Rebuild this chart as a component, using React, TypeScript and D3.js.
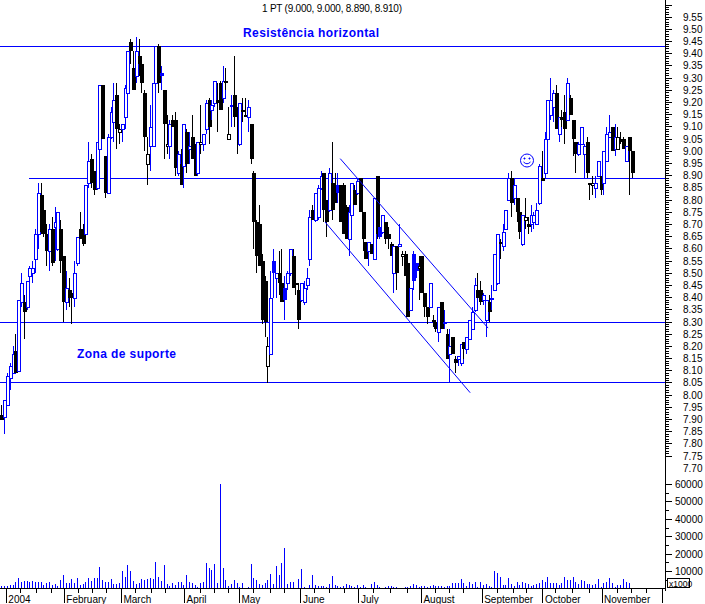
import React from "react";
import * as d3 from "d3";

const BLUE = "#0000ff";
const FONT = "'Liberation Sans', Arial, sans-serif";

// [open, high, low, close, blue?]  blue = closed above previous close; filled = close below open
const januaryCandles = [
[7.92,7.96,7.90,7.90,0],[7.91,7.98,7.84,7.98,1],[7.96,8.09,7.96,8.08,1],[8.07,8.13,8.02,8.12,1],[8.09,8.20,8.09,8.17,1],
[8.18,8.25,8.09,8.09,0],[8.10,8.39,8.10,8.39,1],[8.38,8.50,8.36,8.46,1],[8.38,8.41,8.23,8.34,0],[8.36,8.47,8.35,8.47,1],
[8.49,8.53,8.38,8.52,1],[8.50,8.55,8.46,8.52,1],[8.56,8.68,8.50,8.66,1],[8.66,8.87,8.60,8.83,1],[8.82,8.87,8.66,8.67,0],
[8.76,8.76,8.65,8.66,0],[8.66,8.70,8.53,8.59,0],[8.59,8.70,8.51,8.68,1],[8.68,8.73,8.53,8.54,0],[8.69,8.77,8.55,8.71,1],
[8.60,8.75,8.59,8.75,1],[8.68,8.72,8.50,8.55,0],
];
const februaryCandles = [
[8.57,8.57,8.30,8.38,0],[8.38,8.51,8.35,8.44,1],[8.43,8.48,8.36,8.40,0],[8.42,8.42,8.29,8.40,0],[8.40,8.55,8.36,8.50,1],
[8.54,8.65,8.53,8.65,1],[8.68,8.75,8.64,8.64,0],[8.68,8.70,8.61,8.62,0],[8.66,8.86,8.66,8.86,1],[8.87,9.04,8.85,8.96,1],
[8.97,8.99,8.85,8.87,0],[8.92,8.92,8.82,8.84,0],[8.85,9.04,8.84,9.04,1],[9.01,9.27,9.01,9.27,1],[9.27,9.27,9.05,9.05,0],
[8.98,8.98,8.81,8.83,0],[8.83,9.07,8.83,9.06,1],[9.06,9.18,9.05,9.16,1],[9.12,9.28,9.04,9.21,1],[9.23,9.28,9.01,9.09,0],
];
const marchCandles = [
[9.08,9.11,9.03,9.09,0],[9.09,9.11,9.04,9.11,1],[9.14,9.27,9.09,9.26,1],[9.24,9.41,9.15,9.41,1],
[9.45,9.46,9.36,9.41,0],[9.34,9.41,9.25,9.25,0],[9.31,9.47,9.28,9.41,1],[9.39,9.46,9.31,9.36,0],[9.36,9.37,9.24,9.28,0],
[9.24,9.25,9.00,9.06,0],[8.95,9.06,8.86,8.99,0],[9.02,9.19,8.92,9.10,1],[9.02,9.28,9.02,9.28,1],[9.28,9.43,9.26,9.43,1],
[9.43,9.44,9.24,9.28,0],[9.32,9.35,9.25,9.31,1],[9.25,9.25,8.97,9.11,0],[9.02,9.15,8.99,9.03,0],[9.02,9.13,8.97,9.11,1],
[9.13,9.15,9.10,9.10,0],[9.13,9.16,8.90,8.93,0],[8.91,9.00,8.90,8.99,1],
];
const aprilCandles = [
[8.95,9.01,8.86,8.86,0],[8.94,9.11,8.85,9.11,1],[9.08,9.09,8.91,8.95,0],[9.01,9.08,8.95,9.02,1],[9.06,9.15,8.97,8.97,0],
[9.00,9.03,8.90,8.90,0],[8.91,9.04,8.90,9.04,1],[9.03,9.19,8.99,9.04,0],[9.03,9.07,9.00,9.07,1],
[9.09,9.21,9.07,9.20,1],[9.21,9.22,9.03,9.10,0],[9.17,9.21,9.13,9.19,1],[9.20,9.29,9.18,9.29,1],[9.21,9.28,9.08,9.20,0],
[9.28,9.29,9.17,9.17,0],[9.22,9.35,9.20,9.29,1],[9.29,9.34,9.25,9.29,0],[9.05,9.18,9.05,9.07,0],[9.19,9.23,9.10,9.18,1],
[9.23,9.39,9.10,9.14,0],[9.17,9.18,8.99,9.14,0],[9.03,9.20,9.02,9.20,1],
];
const mayCandles = [
[9.17,9.22,9.12,9.16,0],[9.15,9.22,9.14,9.14,0],[9.14,9.21,9.08,9.18,1],[9.11,9.11,8.95,8.97,0],[8.91,8.92,8.60,8.71,0],
[8.71,8.72,8.50,8.57,0],[8.70,8.78,8.53,8.53,0],[8.55,8.58,8.29,8.31,0],[8.47,8.49,8.24,8.30,0],[8.12,8.24,8.05,8.20,0],
[8.17,8.51,8.17,8.40,1],[8.55,8.60,8.40,8.50,1],[8.48,8.50,8.40,8.50,1],[8.50,8.59,8.41,8.46,0],[8.46,8.60,8.38,8.38,0],
[8.44,8.49,8.31,8.39,1],[8.46,8.51,8.43,8.50,1],[8.50,8.60,8.49,8.60,1],[8.57,8.60,8.44,8.44,0],[8.46,8.47,8.41,8.45,0],
[8.43,8.46,8.27,8.31,0],
];
const juneCandles = [
[8.39,8.46,8.38,8.46,1],[8.38,8.47,8.37,8.44,1],[8.45,8.52,8.43,8.48,1],[8.56,8.76,8.53,8.73,1],[8.76,8.78,8.72,8.72,0],
[8.72,8.83,8.71,8.83,1],[8.73,8.86,8.72,8.85,1],[8.85,8.92,8.84,8.90,1],[8.91,8.91,8.71,8.76,0],[8.80,8.80,8.65,8.71,0],
[8.76,8.93,8.75,8.91,1],[8.87,9.04,8.72,8.76,0],[8.83,8.91,8.79,8.79,0],[8.86,8.91,8.79,8.83,1],[8.86,8.86,8.71,8.71,0],
[8.86,8.87,8.66,8.66,0],[8.77,8.78,8.64,8.64,0],[8.64,8.78,8.57,8.75,1],[8.74,8.87,8.72,8.87,1],[8.84,8.86,8.78,8.78,0],
[8.83,8.89,8.82,8.88,1],[8.89,8.89,8.75,8.75,0],
];
const julyCandles = [
[8.75,8.75,8.59,8.64,0],[8.63,8.63,8.56,8.56,0],[8.59,8.63,8.53,8.63,1],[8.62,8.62,8.58,8.58,0],[8.56,8.81,8.56,8.81,1],
[8.90,8.90,8.64,8.66,0],[8.69,8.69,8.64,8.65,1],[8.67,8.74,8.66,8.74,1],[8.71,8.71,8.62,8.64,0],[8.66,8.69,8.60,8.64,0],
[8.62,8.63,8.57,8.57,0],[8.50,8.61,8.42,8.61,1],[8.61,8.61,8.43,8.50,0],[8.61,8.70,8.61,8.62,1],
[8.57,8.59,8.53,8.58,0],[8.58,8.59,8.49,8.49,0],[8.54,8.54,8.32,8.32,0],[8.35,8.44,8.35,8.44,1],
];
const augustCandles = [
[8.58,8.59,8.43,8.47,1],[8.54,8.54,8.48,8.51,1],[8.52,8.57,8.39,8.53,0],[8.57,8.57,8.42,8.42,0],[8.42,8.42,8.32,8.36,0],
[8.36,8.36,8.29,8.32,0],[8.36,8.46,8.36,8.46,1],[8.31,8.33,8.28,8.30,0],[8.30,8.31,8.26,8.27,0],[8.26,8.36,8.22,8.36,1],
[8.38,8.38,8.27,8.27,0],[8.30,8.35,8.27,8.29,1],[8.25,8.27,8.15,8.15,0],[8.17,8.27,8.05,8.20,1],[8.24,8.24,8.17,8.17,0],
[8.15,8.16,8.09,8.13,0],[8.15,8.16,8.12,8.16,1],[8.13,8.21,8.12,8.21,1],[8.22,8.22,8.15,8.19,0],[8.19,8.24,8.17,8.24,1],
[8.23,8.31,8.23,8.31,1],[8.27,8.36,8.27,8.34,1],[8.35,8.48,8.34,8.45,1],[8.43,8.50,8.40,8.40,0],[8.43,8.47,8.37,8.38,0],
[8.39,8.42,8.37,8.41,1],[8.31,8.39,8.24,8.39,1],[8.38,8.41,8.30,8.34,0],[8.40,8.45,8.35,8.40,1],
];
const septemberCandles = [
[8.43,8.58,8.43,8.58,1],[8.46,8.66,8.45,8.66,1],[8.63,8.64,8.56,8.62,0],[8.61,8.70,8.59,8.67,1],[8.68,8.76,8.68,8.76,1],
[8.80,8.91,8.80,8.89,1],[8.89,8.92,8.73,8.79,0],[8.81,8.89,8.78,8.86,1],[8.81,8.81,8.71,8.75,0],[8.75,8.77,8.64,8.67,0],
[8.62,8.74,8.61,8.74,1],[8.72,8.81,8.68,8.73,0],[8.70,8.73,8.66,8.69,0],[8.70,8.78,8.67,8.74,1],[8.71,8.75,8.68,8.74,1],
[8.70,8.79,8.70,8.76,1],[8.79,8.95,8.78,8.94,1],[8.89,9.00,8.88,8.88,0],[8.91,9.08,8.89,9.05,1],
];
const octoberCandles = [
[9.05,9.21,9.05,9.21,1],[9.15,9.30,9.13,9.21,1],[9.18,9.25,9.12,9.24,1],[9.24,9.27,9.09,9.09,0],[9.07,9.14,9.04,9.14,1],
[9.14,9.17,9.10,9.13,0],[9.16,9.23,9.03,9.09,0],[9.13,9.30,9.13,9.28,1],[9.22,9.23,9.15,9.15,0],[9.13,9.13,8.98,9.05,0],
[9.04,9.04,8.91,8.99,0],[8.99,9.04,8.98,9.03,1],[9.03,9.10,9.03,9.10,1],[8.99,9.03,8.89,9.02,1],
[9.04,9.06,8.89,8.91,0],[8.87,8.87,8.80,8.87,0],[8.86,8.90,8.82,8.87,0],[8.85,8.90,8.81,8.87,1],[8.90,8.96,8.90,8.96,1],
];
const novemberCandles = [
[8.90,8.90,8.82,8.84,0],[8.87,9.00,8.82,9.00,1],[8.96,9.10,8.96,9.07,1],[9.06,9.15,9.06,9.08,1],[9.10,9.10,9.00,9.00,0],
[9.01,9.11,8.98,9.06,1],[9.01,9.10,9.01,9.06,0],[9.05,9.08,9.03,9.04,0],[9.05,9.06,9.01,9.01,0],
[8.96,9.02,8.96,9.02,1],[9.06,9.06,8.82,9.00,0],[9.00,9.00,8.89,8.91,0],
];
const candles = [...januaryCandles, ...februaryCandles, ...marchCandles, ...aprilCandles, ...mayCandles, ...juneCandles,
  ...julyCandles, ...augustCandles, ...septemberCandles, ...octoberCandles, ...novemberCandles];

const volumesFirstHalf = [
1800,1800,1800,2400,2400,4100,6400,4100,4700,4700,4100,4700,4100,4100,4100,2400,3500,4100,2400,3000,1800,5300,8100,3500,3500,5800,3500,6400,2400,3000,
4100,6400,4700,6400,6400,12700,5300,4100,4100,5800,3000,3000,3500,10400,7000,13800,10400,4700,3000,3500,5800,5300,5800,6400,5800,15500,7000,4700,13800,3000,
1800,3500,2400,4100,4100,2400,8100,4100,3500,2400,1300,3500,4100,15000,12100,11000,14400,3500,60000,12100,5300,1800,3000,5300,3500,1300,3500,900,1300,14400,
6400,5300,3000,2400,3500,5300,8700,3000,13200,8100,15000,23500,3000,4100,4100,900,5800,11500,1300,900,2400,8100,2400,1800,1800,1800,1300,3000,7600,2400,1800,1300,1800,3000,2400,
];
const volumesSecondHalf = [
1800,1300,2400,1300,2400,1300,900,3000,4100,2400,1300,900,1300,1800,1800,1300,1300,900,900,1300,1300,1800,3000,2400,1300,1800,1800,1300,1800,2400,1800,1800,1800,1300,1800,1800,
3500,3500,3500,5800,3500,1800,4100,3000,4100,1300,4100,2400,3000,1800,1300,10400,9300,7000,2400,2400,6400,3000,1800,4100,2400,4100,3500,3000,1800,2400,3000,3500,5300,4100,7000,3500,3500,3500,2400,3500,7000,5300,5300,7000,4100,3000,5300,4700,3000,3000,2400,3000,5800,1300,3500,4100,6400,3500,1300,2400,2400,5800,4100,3500,
];
const volumes = [...volumesFirstHalf, ...volumesSecondHalf];

const priceTicks = d3.range(0, 38).map((k) => +(9.55 - k * 0.05).toFixed(2));
const volumeTicks = [60000, 50000, 40000, 30000, 20000, 10000];
const monthNames = ["2004", "February", "March", "April", "May", "June", "July", "August", "September", "October", "November", ""];
const monthStarts = [1.8, 22.5, 42.9, 65.4, 85, 107, 127.7, 150, 171.7, 193.4, 214.5, 236];
const weekTicks = [7, 12.5, 18, 27.5, 32.5, 37.5, 48, 53.5, 58.5, 71, 76, 81, 90, 96, 101, 112, 117, 122.5, 133, 139, 145, 155, 160, 165, 177, 183, 187.6, 198, 204, 210, 220, 225, 230.4];

const resistance = 9.43;
const pivot = 8.89;
const supportTop = 8.30;
const supportBottom = 8.05;
const pivotStartBar = 10;
const channelUpper: [number, number][] = [[121, 8.97], [173.8, 8.275]];
const channelLower: [number, number][] = [[115.6, 8.71], [167.4, 8.01]];

const x = d3.scaleLinear().domain([0, 225]).range([1.3, 631.5]);
const y = d3.scaleLinear().domain([8.9, 8.3]).range([175.7, 322]);
const v = d3.scaleLinear().domain([0, 60000]).range([589.2, 484.3]);
const AXIS_X = 665.5;
const BASE_Y = 588.5;
const diag = d3.line<[number, number]>().x((d) => x(d[0])).y((d) => y(d[1]));

export default function App() {
  const minorPrices = d3.range(0, 186).map((k) => 9.55 - k * 0.01 + 0.05);
  return (
    <svg width={705} height={604} style={{ position: "absolute", left: 0, top: 0, background: "#fff" }} fontFamily={FONT}>
      <text x={262} y={12} fontSize={10} fill="#000" textLength={140}>1 PT (9.000, 9.000, 8.890, 8.910)</text>

      <g shapeRendering="crispEdges" stroke={BLUE}>
        <line x1={0} x2={AXIS_X} y1={y(resistance)} y2={y(resistance)} />
        <line x1={x(pivotStartBar)} x2={AXIS_X} y1={y(pivot)} y2={y(pivot)} />
        <line x1={0} x2={AXIS_X} y1={y(supportTop)} y2={y(supportTop)} />
        <line x1={0} x2={AXIS_X} y1={y(supportBottom)} y2={y(supportBottom)} />
      </g>

      <g shapeRendering="crispEdges">
        {candles.map((d, i) => {
          const [o, h, l, c, up] = d;
          const col = up ? BLUE : "#000";
          const cx = Math.round(x(i));
          const top = Math.round(y(Math.max(o, c)));
          const bot = Math.round(y(Math.min(o, c)));
          return (
            <g key={i}>
              <line x1={cx + 0.5} x2={cx + 0.5} y1={y(h)} y2={y(l)} stroke={col} />
              {c >= o ? (
                <rect x={cx - 1} y={top + 0.5} width={3} height={Math.max(bot - top, 1)} fill="#fff" stroke={col} />
              ) : (
                <rect x={cx - 1.5} y={top} width={4} height={Math.max(bot - top, 2)} fill={col} />
              )}
            </g>
          );
        })}
      </g>

      <g fill="none" stroke={BLUE} strokeWidth={1}>
        <path d={diag(channelUpper) ?? ""} />
        <path d={diag(channelLower) ?? ""} />
      </g>

      <g shapeRendering="crispEdges" stroke={BLUE}>
        {volumes.map((d, i) => (
          <line key={i} x1={Math.round(x(i)) + 0.5} x2={Math.round(x(i)) + 0.5} y1={v(d)} y2={BASE_Y} />
        ))}
      </g>

      <text x={243} y={37} fontSize={12} fontWeight="bold" fill={BLUE} textLength={136}>Resistência horizontal</text>
      <text x={77} y={358} fontSize={12} fontWeight="bold" fill={BLUE} textLength={99}>Zona de suporte</text>

      <g transform="translate(527,160.5)" fill="none" stroke={BLUE}>
        <circle r={6.5} />
        <circle cx={-2.5} cy={-2} r={0.6} fill={BLUE} />
        <circle cx={2.5} cy={-2} r={0.6} fill={BLUE} />
        <path d="M-3.5,1.5 Q0,5 3.5,1.5" />
      </g>

      <g shapeRendering="crispEdges" stroke="#000">
        <line x1={AXIS_X} x2={AXIS_X} y1={0} y2={BASE_Y + 2} />
        <line x1={0} x2={AXIS_X} y1={BASE_Y} y2={BASE_Y} />
        {minorPrices.map((p, k) => (
          <line key={k} x1={AXIS_X} x2={AXIS_X + (k % 5 === 0 ? 6 : 3)} y1={y(p)} y2={y(p)} />
        ))}
        {d3.range(5000, 65000, 5000).map((t) => (
          <line key={t} x1={AXIS_X} x2={AXIS_X + (t % 10000 === 0 ? 6 : 3)} y1={v(t)} y2={v(t)} />
        ))}
        {monthStarts.map((m) => (
          <line key={m} x1={x(m)} x2={x(m)} y1={BASE_Y} y2={603} />
        ))}
        {weekTicks.map((m) => (
          <line key={m} x1={x(m)} x2={x(m)} y1={BASE_Y} y2={593} />
        ))}
      </g>

      <g fontSize={10} fill="#000">
        {priceTicks.map((p) => (
          <text key={p} x={683} y={y(p) + 3.5}>{p.toFixed(2)}</text>
        ))}
        {volumeTicks.map((t) => (
          <text key={t} x={675} y={v(t) + 3.5}>{t}</text>
        ))}
        {monthNames.map((m, k) => (
          <text key={k} x={x(monthStarts[k]) + 2} y={603}>{m}</text>
        ))}
      </g>

      <rect x={667.5} y={578.5} width={22} height={9} fill="#fff" stroke="#000" shapeRendering="crispEdges" />
      <text x={669} y={586.5} fontSize={8.5} fill="#000">x1000</text>
    </svg>
  );
}
